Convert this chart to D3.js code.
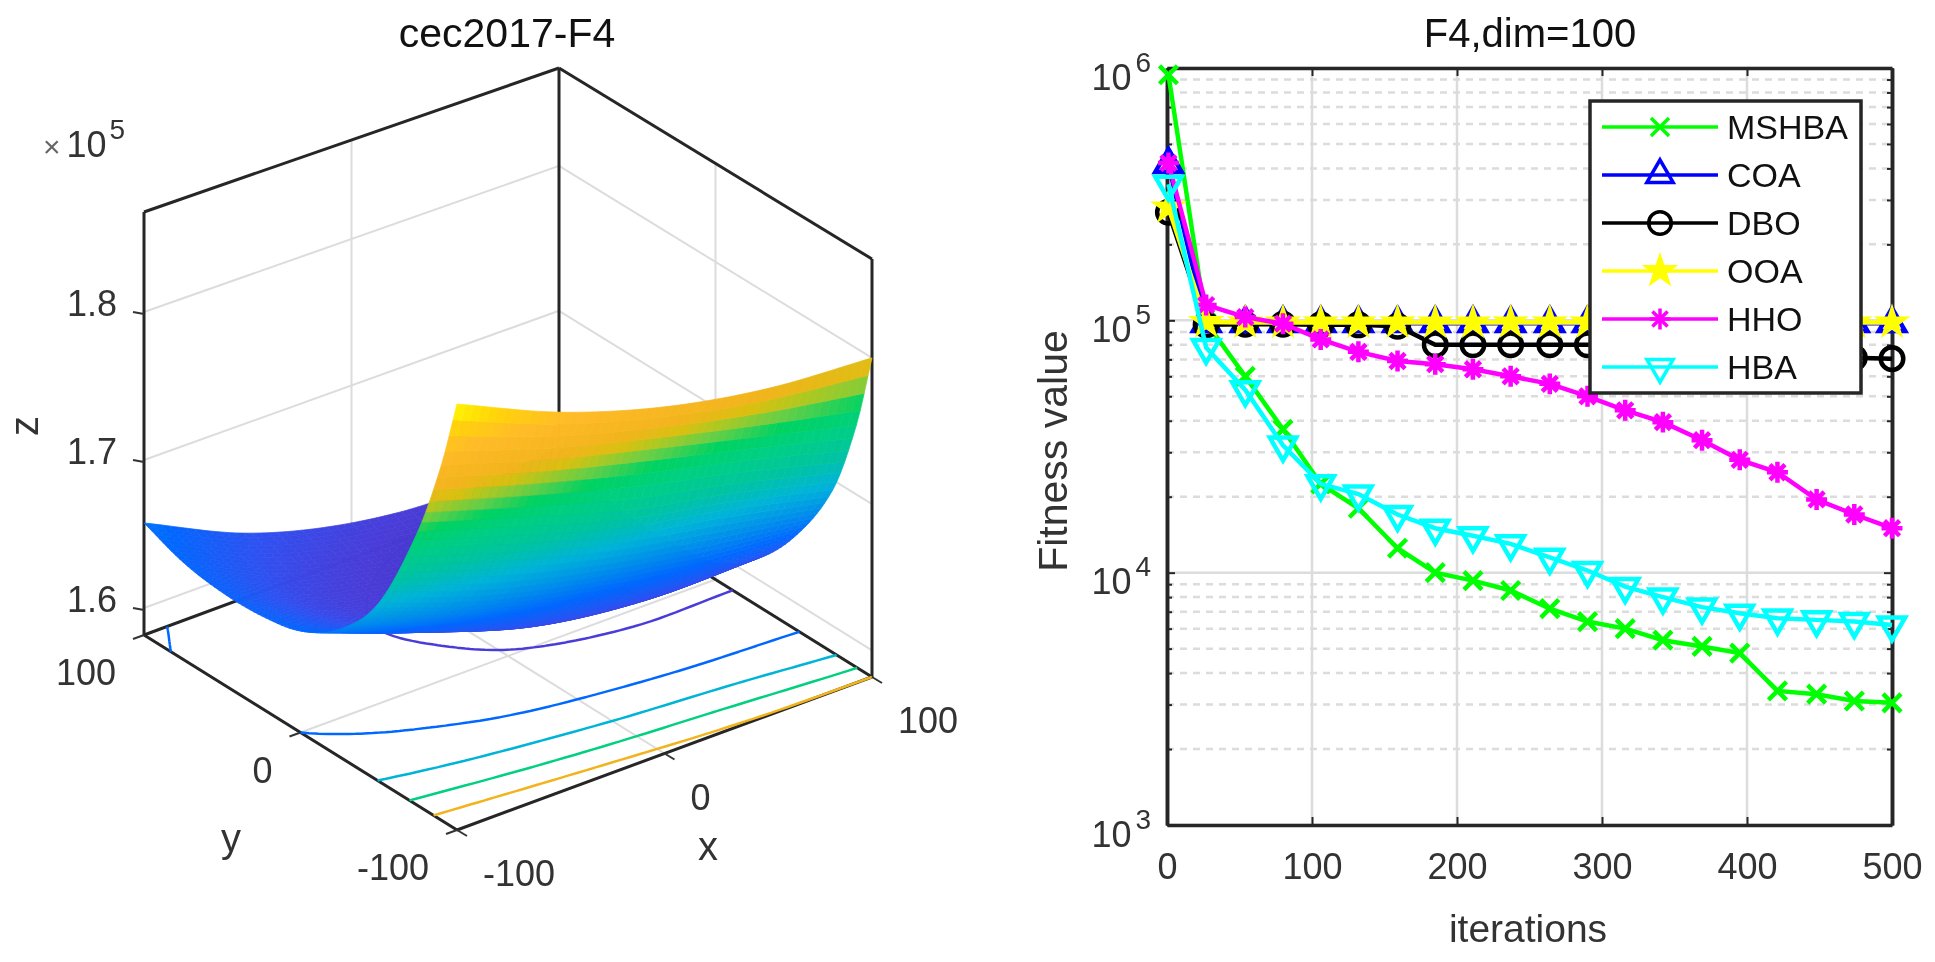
<!DOCTYPE html>
<html>
<head>
<meta charset="utf-8">
<script src="https://cdn.jsdelivr.net/npm/d3@7"></script>
<style>
    body { margin: 0; background: #fff; }
    svg { display: block; filter: blur(0.6px); }
    text { font-family: "Liberation Sans", Arial, sans-serif; }
</style>
</head>
<body>
<svg id="chart" width="1935" height="962"></svg>
<script>
//right chart data
var iterations = [1, 27, 54, 80, 106, 132, 159, 185, 211, 237, 264, 290, 316, 342, 369, 395, 421, 448, 474, 500];
var mshba = [940000, 98000, 60000, 37000, 22500, 18000, 12500, 10000, 9300, 8500, 7200, 6400, 6000, 5400, 5100, 4800, 3400, 3300, 3100, 3050];
var coa = [415000, 97300, 97300, 97300, 97300, 97300, 97300, 97300, 97300, 97300, 97300, 97300, 97300, 97300, 97300, 97300, 97300, 97300, 97300, 97300];
var dbo = [268000, 96000, 96500, 96500, 96000, 96000, 94700, 80000, 80000, 80000, 80000, 80000, 80000, 79000, 78000, 77000, 75000, 73000, 71000, 70500];
var ooa = [280000, 98500, 98000, 98000, 98000, 98000, 98000, 98000, 98000, 98000, 98000, 98000, 98000, 98000, 98000, 98000, 98000, 98000, 98000, 98000];
var hho = [420000, 115000, 103000, 97000, 84000, 75000, 69000, 67000, 64000, 60000, 56000, 50000, 44000, 39500, 33500, 28000, 25000, 19500, 17000, 15000];
var hba = [346000, 78000, 53000, 32000, 22500, 20500, 17000, 15000, 14000, 13000, 11500, 10200, 8800, 8000, 7300, 6900, 6600, 6500, 6400, 6200];
var seriesNames = ["MSHBA", "COA", "DBO", "OOA", "HHO", "HBA"];
var seriesColors = ["#00ff00", "#0000ff", "#000000", "#ffff00", "#ff00ff", "#00ffff"];
var seriesValues = [mshba, coa, dbo, ooa, hho, hba];
var xTicksRight = [0, 100, 200, 300, 400, 500];
var yTicksRight = [1000, 10000, 100000, 1000000];

//left chart data, z is in units of 10^5, one row for each y knot
var surfaceX = [-100, -50, 0, 50, 100];
var surfaceY = [-100, -90, -75, -50, -25, 0, 25, 50, 75, 100];
var zYm100 = [1.8669, 1.8372, 1.8163, 1.8041, 1.8000];
var zYm90 = [1.8196, 1.7987, 1.7811, 1.7642, 1.7473];
var zYm75 = [1.7656, 1.7440, 1.7237, 1.7102, 1.6933];
var zYm50 = [1.7014, 1.6777, 1.6609, 1.6487, 1.6440];
var zYm25 = [1.6676, 1.6433, 1.6210, 1.6115, 1.6122];
var zY0 = [1.6500, 1.6237, 1.6027, 1.5946, 1.5933];
var zY25 = [1.6440, 1.6129, 1.5953, 1.5879, 1.5886];
var zY50 = [1.6433, 1.6088, 1.5940, 1.5872, 1.5879];
var zY75 = [1.6473, 1.6142, 1.5973, 1.5899, 1.5926];
var zY100 = [1.6575, 1.6250, 1.6061, 1.5994, 1.6061];
var surfaceRows = [zYm100, zYm90, zYm75, zYm50, zYm25, zY0, zY25, zY50, zY75, zY100];
var contourLevels = [1.6, 1.65, 1.7, 1.75, 1.8];
var zTicks = [1.6, 1.7, 1.8];
var xyTicks = [-100, 0, 100];
var colorStops = [1.585, 1.6, 1.62, 1.65, 1.7, 1.725, 1.75, 1.765, 1.775, 1.785, 1.79, 1.8, 1.83, 1.85, 1.867];
var colorValues = ["#4030c0", "#4a3cd8", "#3050f0", "#0068ff", "#00b4d8", "#00c4a0", "#00d080", "#00d262", "#60cf48", "#b0c820", "#d8c010", "#f2b41c", "#ffbb28", "#ffd508", "#ffff00"];

var svg = d3.select("#chart");
var axisColor = "#333333";
var gridColor = "#dcdcdc";

//cubic interpolation through the knots, works with uneven spacing
function hermite(knots, values, t) {
    var n = knots.length;
    var i = Math.min(d3.bisectRight(knots, t) - 1, n - 2);
    var h = knots[i + 1] - knots[i];
    function slope(k) {
        if (k == 0) return (values[1] - values[0]) / (knots[1] - knots[0]);
        if (k == n - 1) return (values[n - 1] - values[n - 2]) / (knots[n - 1] - knots[n - 2]);
        return (values[k + 1] - values[k - 1]) / (knots[k + 1] - knots[k - 1]);
    }
    var s = (t - knots[i]) / h;
    return (2 * s * s * s - 3 * s * s + 1) * values[i] + (s * s * s - 2 * s * s + s) * h * slope(i) +
        (-2 * s * s * s + 3 * s * s) * values[i + 1] + (s * s * s - s * s) * h * slope(i + 1);
}

function drawSurfacePanel() {
    var g = svg.append("g");
    var uScale = d3.scaleLinear().domain([-100, 100]).range([0, 1]);
    var vScale = d3.scaleLinear().domain([-100, 100]).range([0, 1]);
    var zScale = d3.scaleLinear().domain([1.5818, 1.8676]).range([0, 1]);
    var colorScale = d3.scaleLinear().domain(colorStops).range(colorValues).clamp(true);

    //the box is a little narrower towards the back, so the height depends on u and v
    function project(x, y, z) {
        var u = uScale(x);
        var v = vScale(y);
        return [457 + 415 * u - 313 * v, 830 - 153 * u - 195 * v - zScale(z) * (427 - 9 * u - 4 * v)];
    }

    var line3d = function(a, b, color, width) {
        var p = project(a[0], a[1], a[2]);
        var q = project(b[0], b[1], b[2]);
        g.append("line").attr("x1", p[0]).attr("y1", p[1]).attr("x2", q[0]).attr("y2", q[1])
            .attr("stroke", color).attr("stroke-width", width);
    };

    var zLo = zScale.domain()[0];
    var zHi = zScale.domain()[1];

    //grid on the walls and the floor
    zTicks.forEach(function(z) {
        line3d([-100, 100, z], [100, 100, z], gridColor, 2);
        line3d([100, 100, z], [100, -100, z], gridColor, 2);
    });
    line3d([0, 100, zLo], [0, 100, zHi], gridColor, 2);
    line3d([100, 0, zLo], [100, 0, zHi], gridColor, 2);
    line3d([0, 100, zLo], [0, -100, zLo], gridColor, 2);
    line3d([100, 0, zLo], [-100, 0, zLo], gridColor, 2);

    //box edges
    var edges = [
        [[-100, 100, zLo], [-100, 100, zHi]],
        [[100, 100, zLo], [100, 100, zHi]],
        [[100, -100, zLo], [100, -100, zHi]],
        [[-100, 100, zHi], [100, 100, zHi]],
        [[100, 100, zHi], [100, -100, zHi]],
        [[-100, 100, zLo], [100, 100, zLo]],
        [[100, 100, zLo], [100, -100, zLo]],
        [[-100, 100, zLo], [-100, -100, zLo]],
        [[-100, -100, zLo], [100, -100, zLo]]
    ];
    edges.forEach(function(e) {
        line3d(e[0], e[1], "#262626", 3);
    });

    //fine mesh from the table
    var nx = 50;
    var ny = 80;
    var meshX = d3.range(nx + 1).map(function(i) { return -100 + i * 200 / nx; });
    var meshY = d3.range(ny + 1).map(function(j) { return -100 + j * 200 / ny; });
    var fineRows = surfaceRows.map(function(row) {
        return meshX.map(function(x) { return hermite(surfaceX, row, x); });
    });
    var mesh = meshY.map(function(y) {
        return meshX.map(function(x, i) {
            return hermite(surfaceY, fineRows.map(function(r) { return r[i]; }), y);
        });
    });

    //floor contours
    var values = [];
    mesh.forEach(function(row) { row.forEach(function(z) { values.push(z); }); });
    var contours = d3.contours().size([nx + 1, ny + 1]).thresholds(contourLevels)(values);
    function onEdge(p) {
        return p[0] <= 0.51 || p[0] >= nx + 0.49 || p[1] <= 0.51 || p[1] >= ny + 0.49;
    }
    function floorPoint(p) {
        var x = -100 + Math.max(0, Math.min(nx, p[0] - 0.5)) * 200 / nx;
        var y = -100 + Math.max(0, Math.min(ny, p[1] - 0.5)) * 200 / ny;
        return project(x, y, zLo);
    }
    contours.forEach(function(c) {
        var d = "";
        c.coordinates.forEach(function(poly) {
            poly.forEach(function(ring) {
                for (var k = 0; k < ring.length - 1; k++) {
                    if (onEdge(ring[k]) && onEdge(ring[k + 1])) continue;
                    var p = floorPoint(ring[k]);
                    var q = floorPoint(ring[k + 1]);
                    d += "M" + p[0] + "," + p[1] + "L" + q[0] + "," + q[1];
                }
            });
        });
        g.append("path").attr("d", d).attr("fill", "none").attr("stroke-width", 2.5)
            .attr("stroke", colorScale(c.value));
    });

    //surface, far faces first
    for (var j = ny - 1; j >= 0; j--) {
        for (var i = nx - 1; i >= 0; i--) {
            var a = project(meshX[i], meshY[j], mesh[j][i]);
            var b = project(meshX[i + 1], meshY[j], mesh[j][i + 1]);
            var c = project(meshX[i + 1], meshY[j + 1], mesh[j + 1][i + 1]);
            var e = project(meshX[i], meshY[j + 1], mesh[j + 1][i]);
            var col = colorScale((mesh[j][i] + mesh[j][i + 1] + mesh[j + 1][i + 1] + mesh[j + 1][i]) / 4);
            g.append("path")
                .attr("d", "M" + a + "L" + b + "L" + c + "L" + e + "Z")
                .attr("fill", col).attr("stroke", col).attr("stroke-width", 0.7);
        }
    }

    //ticks and labels
    zTicks.forEach(function(z) {
        var p = project(-100, 100, z);
        g.append("line").attr("x1", p[0] - 11).attr("y1", p[1]).attr("x2", p[0]).attr("y2", p[1] + 2)
            .attr("stroke", axisColor).attr("stroke-width", 2);
        g.append("text").attr("x", p[0] - 27).attr("y", p[1] + 4).attr("text-anchor", "end")
            .attr("font-size", 36).attr("fill", axisColor).text(z.toFixed(1));
    });
    xyTicks.forEach(function(t) {
        var p = project(-100, t, zLo);
        g.append("line").attr("x1", p[0]).attr("y1", p[1]).attr("x2", p[0] - 11).attr("y2", p[1] + 4)
            .attr("stroke", axisColor).attr("stroke-width", 2);
        g.append("text").attr("x", p[0] - 28).attr("y", p[1] + 50).attr("text-anchor", "end")
            .attr("font-size", 36).attr("fill", axisColor).text(t);
        var q = project(t, -100, zLo);
        g.append("line").attr("x1", q[0]).attr("y1", q[1]).attr("x2", q[0] + 10).attr("y2", q[1] + 6)
            .attr("stroke", axisColor).attr("stroke-width", 2);
        g.append("text").attr("x", q[0] + 26).attr("y", q[1] + 56).attr("text-anchor", "start")
            .attr("font-size", 36).attr("fill", axisColor).text(t);
    });

    g.append("text").attr("x", 507).attr("y", 47).attr("text-anchor", "middle")
        .attr("font-size", 41).attr("fill", "#111").text("cec2017-F4");
    g.append("text").attr("x", 231).attr("y", 852).attr("text-anchor", "middle")
        .attr("font-size", 40).attr("fill", axisColor).text("y");
    g.append("text").attr("x", 708).attr("y", 860).attr("text-anchor", "middle")
        .attr("font-size", 40).attr("fill", axisColor).text("x");
    g.append("text").attr("transform", "translate(38,426) rotate(-90)").attr("text-anchor", "middle")
        .attr("font-size", 40).attr("fill", axisColor).text("z");

    //exponent above the z axis
    var expo = g.append("text").attr("x", 43).attr("y", 157).attr("fill", axisColor).attr("font-size", 36);
    expo.append("tspan").attr("font-size", 30).attr("fill", "#666").text("\u00d7");
    expo.append("tspan").attr("dx", 6).text("10");
    expo.append("tspan").attr("font-size", 28).attr("dy", -18).attr("dx", 3).text("5");
}

//MATLAB style * marker, four strokes through the centre
var symbolStarLines = {
    draw: function(context, size) {
        var r = Math.sqrt(size);
        var k = r * 0.72;
        context.moveTo(-r, 0); context.lineTo(r, 0);
        context.moveTo(0, -r); context.lineTo(0, r);
        context.moveTo(-k, -k); context.lineTo(k, k);
        context.moveTo(-k, k); context.lineTo(k, -k);
    }
};

function markerPath(name) {
    if (name == "MSHBA") return d3.symbol().type(d3.symbolTimes).size(213)();
    if (name == "COA") return d3.symbol().type(d3.symbolTriangle).size(300)();
    if (name == "DBO") return d3.symbol().type(d3.symbolCircle).size(400)();
    if (name == "OOA") return d3.symbol().type(d3.symbolStar).size(320)();
    if (name == "HHO") return d3.symbol().type(symbolStarLines).size(110)();
    return d3.symbol().type(d3.symbolTriangle).size(300)();
}

function drawMarker(sel, name, color, x, y, width) {
    sel.append("path")
        .attr("d", markerPath(name))
        .attr("transform", "translate(" + x + "," + y + ")" + (name == "HBA" ? " rotate(180)" : ""))
        .attr("fill", name == "OOA" ? color : "none")
        .attr("stroke", color)
        .attr("stroke-width", name == "OOA" ? 1.5 : width);
}

function drawLinePanel() {
    var g = svg.append("g");
    var x = d3.scaleLinear().domain([0, 500]).range([1167, 1892]);
    var y = d3.scaleLog().domain([1000, 1000000]).range([825, 68]);

    //grid
    var minor = y.ticks().filter(function(d) { return yTicksRight.indexOf(d) < 0; });
    g.selectAll(".minor").data(minor).enter().append("line")
        .attr("x1", x.range()[0]).attr("x2", x.range()[1])
        .attr("y1", function(d) { return y(d); }).attr("y2", function(d) { return y(d); })
        .attr("stroke", gridColor).attr("stroke-width", 2.5).attr("stroke-dasharray", "7 6");
    g.selectAll(".majorY").data(yTicksRight).enter().append("line")
        .attr("x1", x.range()[0]).attr("x2", x.range()[1])
        .attr("y1", function(d) { return y(d); }).attr("y2", function(d) { return y(d); })
        .attr("stroke", gridColor).attr("stroke-width", 2.5);
    g.selectAll(".majorX").data(xTicksRight).enter().append("line")
        .attr("x1", function(d) { return x(d); }).attr("x2", function(d) { return x(d); })
        .attr("y1", y.range()[0]).attr("y2", y.range()[1])
        .attr("stroke", gridColor).attr("stroke-width", 2.5);

    //axes, ticks point inwards
    var bottom = g.append("g").attr("transform", "translate(0,825)")
        .call(d3.axisBottom(x).tickValues(xTicksRight).tickSizeInner(-8).tickSizeOuter(0).tickPadding(28));
    g.append("g").attr("transform", "translate(0,68)")
        .call(d3.axisTop(x).tickValues(xTicksRight).tickSizeInner(-8).tickSizeOuter(0).tickFormat(""));
    var left = g.append("g").attr("transform", "translate(1167,0)")
        .call(d3.axisLeft(y).tickValues(yTicksRight).tickSizeInner(-8).tickSizeOuter(0).tickFormat(""));
    g.append("g").attr("transform", "translate(1892,0)")
        .call(d3.axisRight(y).tickValues(yTicksRight).tickSizeInner(-8).tickSizeOuter(0).tickFormat(""));
    g.append("g").attr("transform", "translate(1167,0)")
        .call(d3.axisLeft(y).tickValues(minor).tickSizeInner(-5).tickSizeOuter(0).tickFormat(""));
    g.append("g").attr("transform", "translate(1892,0)")
        .call(d3.axisRight(y).tickValues(minor).tickSizeInner(-5).tickSizeOuter(0).tickFormat(""));
    g.selectAll(".domain").attr("stroke", "#262626").attr("stroke-width", 3.5);
    g.selectAll(".tick line").attr("stroke", "#262626").attr("stroke-width", 2);
    bottom.selectAll("text").attr("font-size", 36).attr("fill", axisColor)
        .attr("font-family", "Liberation Sans");

    //log labels written as 10 with a raised exponent
    left.selectAll(".tick").each(function(d) {
        var t = d3.select(this).append("text")
            .attr("x", -16).attr("y", 21).attr("text-anchor", "end")
            .attr("fill", axisColor).attr("font-size", 36)
            .attr("font-family", "Liberation Sans");
        t.append("tspan").text("10");
        t.append("tspan").attr("font-size", 28).attr("dy", -18).attr("dx", 4).text(Math.round(Math.log10(d)));
    });

    //lines then markers, one series at a time
    var line = d3.line()
        .x(function(d, i) { return x(iterations[i]); })
        .y(function(d) { return y(d); });
    seriesNames.forEach(function(name, s) {
        g.append("path").attr("d", line(seriesValues[s])).attr("fill", "none")
            .attr("stroke", seriesColors[s]).attr("stroke-width", 4.5);
        seriesValues[s].forEach(function(v, i) {
            drawMarker(g, name, seriesColors[s], x(iterations[i]), y(v), 4.5);
        });
    });

    g.append("text").attr("x", 1530).attr("y", 47).attr("text-anchor", "middle")
        .attr("font-size", 40).attr("fill", "#111").text("F4,dim=100");
    g.append("text").attr("x", 1528).attr("y", 942).attr("text-anchor", "middle")
        .attr("font-size", 39).attr("fill", axisColor).text("iterations");
    g.append("text").attr("transform", "translate(1067,451) rotate(-90)").attr("text-anchor", "middle")
        .attr("font-size", 41).attr("fill", axisColor).text("Fitness value");

    //legend
    var legend = g.append("g");
    legend.append("rect").attr("x", 1590).attr("y", 101).attr("width", 271).attr("height", 292)
        .attr("fill", "#fff").attr("stroke", "#262626").attr("stroke-width", 3.5);
    var legendY = d3.scalePoint().domain(seriesNames).range([127, 367]);
    seriesNames.forEach(function(name, s) {
        var ly = legendY(name);
        legend.append("line").attr("x1", 1602).attr("x2", 1718).attr("y1", ly).attr("y2", ly)
            .attr("stroke", seriesColors[s]).attr("stroke-width", 3.5);
        drawMarker(legend, name, seriesColors[s], 1660, ly, 3.5);
        legend.append("text").attr("x", 1727).attr("y", ly + 12).attr("font-size", 34)
            .attr("fill", "#111").text(name);
    });
}

drawSurfacePanel();
drawLinePanel();
</script>
</body>
</html>
